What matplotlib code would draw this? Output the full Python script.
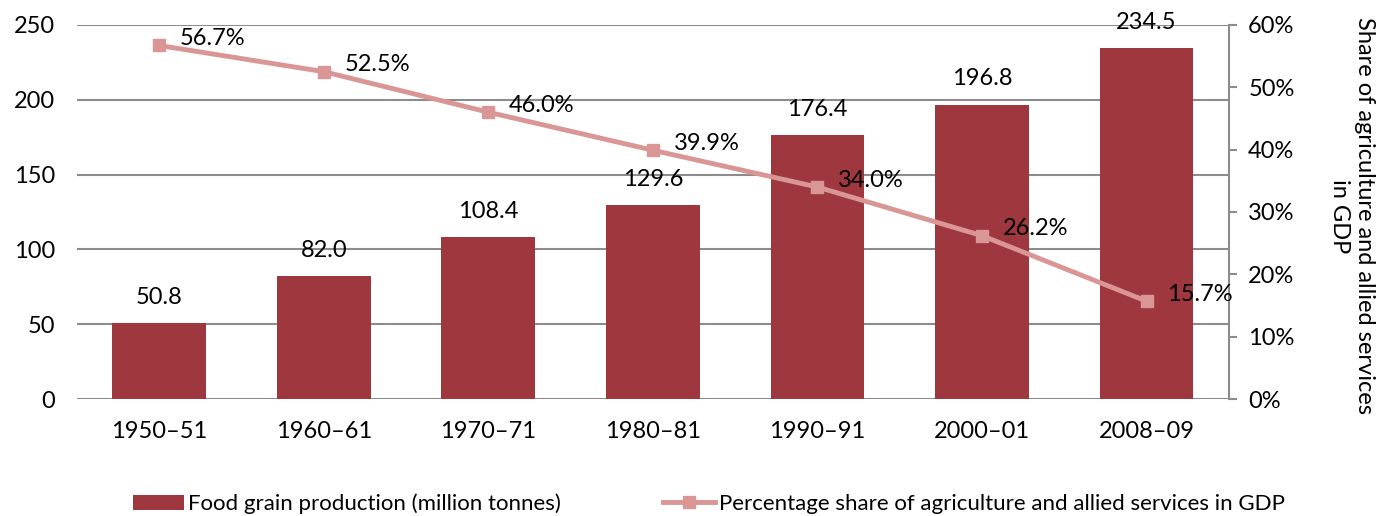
import matplotlib.pyplot as plt
import numpy as np

plt.rcParams['font.family'] = ['Lato', 'DejaVu Sans']

years = ['1950–51', '1960–61', '1970–71', '1980–81', '1990–91', '2000–01', '2008–09']
food_grain = [50.8, 82.0, 108.4, 129.6, 176.4, 196.8, 234.5]
agri_share = [56.7, 52.5, 46.0, 39.9, 34.0, 26.2, 15.7]

bar_color = '#9E383E'
line_color = '#D99694'
grid_color = '#8C8C8C'

fig = plt.figure(figsize=(13.76, 5.16), dpi=100)
ax = fig.add_axes([0.056, 0.2267, 0.837, 0.725])
x = np.arange(len(years))

# bars on the left axis
bars = ax.bar(x, food_grain, width=0.57, color=bar_color, zorder=2,
              label='Food grain production (million tonnes)')
ax.bar_label(bars, labels=[f'{v:.1f}' for v in food_grain], padding=11, fontsize=17)
ax.set_ylim(0, 250)
ax.set_yticks(range(0, 251, 50))
ax.set_xlim(-0.5, len(years) - 0.5)
ax.set_xticks(x)
ax.set_xticklabels(years)
ax.yaxis.grid(True, color=grid_color, linewidth=1.5, zorder=0)
ax.tick_params(axis='both', length=0, labelsize=17)
ax.tick_params(axis='x', pad=16)
ax.tick_params(axis='y', pad=16)
for s in ['top', 'left', 'bottom', 'right']:
    ax.spines[s].set_visible(False)

# line on the right axis
ax2 = ax.twinx()
line, = ax2.plot(x, agri_share, color=line_color, linewidth=3.5, marker='s',
                 markersize=8, zorder=3,
                 label='Percentage share of agriculture and allied services in GDP')
for xi, v in zip(x, agri_share):
    ax2.annotate(f'{v:.1f}%', (xi, v), xytext=(15, 5), textcoords='offset points',
                 ha='left', va='center', fontsize=17)
ax2.set_ylim(0, 60)
ax2.set_yticks(range(0, 61, 10))
ax2.set_yticklabels([f'{t}%' for t in range(0, 61, 10)])
ax2.tick_params(axis='y', length=6, width=1.5, color=grid_color, labelsize=17, pad=8)
for s in ['top', 'left', 'bottom']:
    ax2.spines[s].set_visible(False)
ax2.spines['right'].set_color(grid_color)
ax2.spines['right'].set_linewidth(1.5)
ax2.set_ylabel('Share of agriculture and allied services\nin GDP', rotation=-90,
               fontsize=17, linespacing=1.25)
ax2.yaxis.set_label_coords(1.127, 0.49)

fig.legend(handles=[bars, line], loc='lower left', bbox_to_anchor=(0.082, -0.035),
           ncol=2, frameon=False, fontsize=16, columnspacing=4.6,
           handlelength=2.3, handletextpad=0.2)

fig.savefig('out.png', dpi=100)
